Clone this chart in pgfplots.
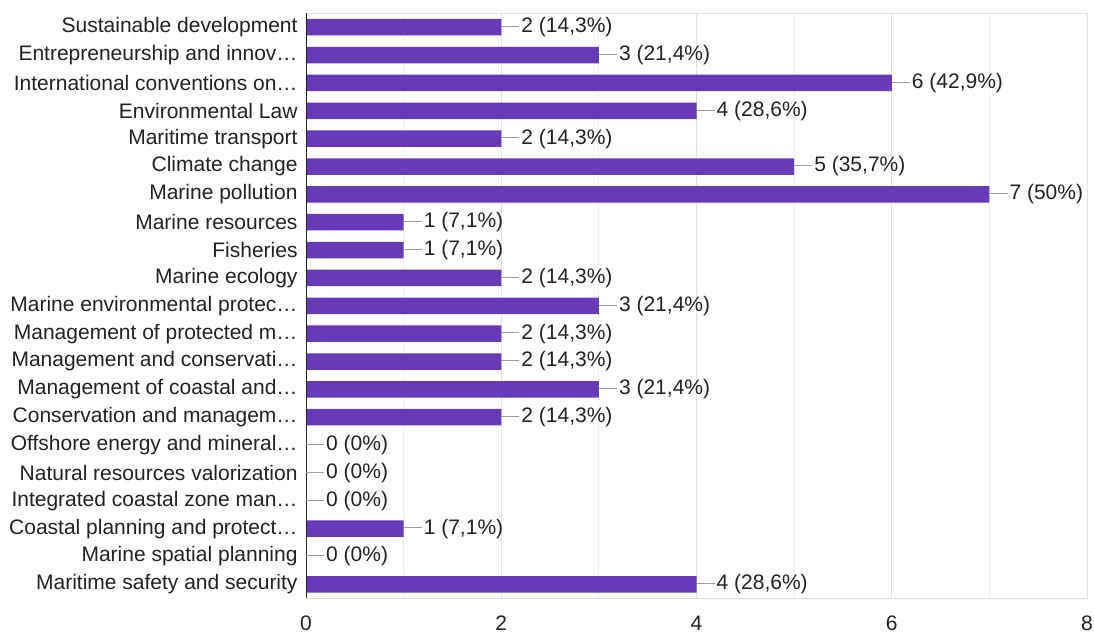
\documentclass[border=0pt]{standalone}
\usepackage{fontspec}
\setmainfont{Liberation Sans}
\usepackage{pgfplots}
\pgfplotsset{compat=1.18}
\definecolor{barc}{HTML}{673AB7}
\definecolor{gridc}{HTML}{E0E0E0}
\definecolor{gridminor}{HTML}{EFEFEF}
\definecolor{txt}{HTML}{222222}
\definecolor{leader}{HTML}{9E9E9E}
\begin{document}
\begin{tikzpicture}[x=1pt,y=1pt]
\useasboundingbox (0,0) rectangle (1094,632);
\begin{axis}[
  at={(306pt,33.7pt)}, anchor=south west,
  scale only axis, width=781pt, height=585pt,
  xbar, bar width=16.5pt,
  xmin=0, xmax=8, ymin=-0.5, ymax=20.5, y dir=reverse,
  xtick={0,2,4,6,8}, minor xtick={1,3,5,7},
  xmajorgrids, xminorgrids,
  major grid style={draw=gridc, line width=1pt},
  minor grid style={draw=gridminor, line width=1pt},
  ytick={0,...,20},
  yticklabels={Sustainable development,Entrepreneurship and innov…,International conventions on…,Environmental Law,Maritime transport,Climate change,Marine pollution,Marine resources,Fisheries,Marine ecology,Marine environmental protec…,Management of protected m…,Management and conservati…,Management of coastal and…,Conservation and managem…,Offshore energy and mineral…,Natural resources valorization,Integrated coastal zone man…,Coastal planning and protect…,Marine spatial planning,Maritime safety and security},
  axis line style={draw=gridc, line width=1pt},
  tick style={draw=none},
  /pgf/number format/assume math mode=true,
  yticklabel style={font=\fontsize{21}{24}\selectfont, text=txt, inner sep=0pt, xshift=-4pt},
  xticklabel style={font=\fontsize{21}{24}\selectfont, text=txt, inner sep=0pt, yshift=-17.5pt},
  point meta=explicit symbolic,
  nodes near coords={{\color{leader}\rule[0.27em]{18pt}{1pt}}\hspace{2pt}\pgfplotspointmeta},
  nodes near coords style={anchor=west, inner sep=0pt, text=txt, font=\fontsize{21}{24}\selectfont},
]
\addplot[fill=barc, draw=none] coordinates {
  (2,0) [2 (14,3\%)]
  (3,1) [3 (21,4\%)]
  (6,2) [6 (42,9\%)]
  (4,3) [4 (28,6\%)]
  (2,4) [2 (14,3\%)]
  (5,5) [5 (35,7\%)]
  (7,6) [7 (50\%)]
  (1,7) [1 (7,1\%)]
  (1,8) [1 (7,1\%)]
  (2,9) [2 (14,3\%)]
  (3,10) [3 (21,4\%)]
  (2,11) [2 (14,3\%)]
  (2,12) [2 (14,3\%)]
  (3,13) [3 (21,4\%)]
  (2,14) [2 (14,3\%)]
  (0,15) [0 (0\%)]
  (0,16) [0 (0\%)]
  (0,17) [0 (0\%)]
  (1,18) [1 (7,1\%)]
  (0,19) [0 (0\%)]
  (4,20) [4 (28,6\%)]
};
\draw[draw=txt, line width=1.2pt] (axis cs:0,-0.5) -- (axis cs:0,20.5);
\end{axis}
\end{tikzpicture}
\end{document}
